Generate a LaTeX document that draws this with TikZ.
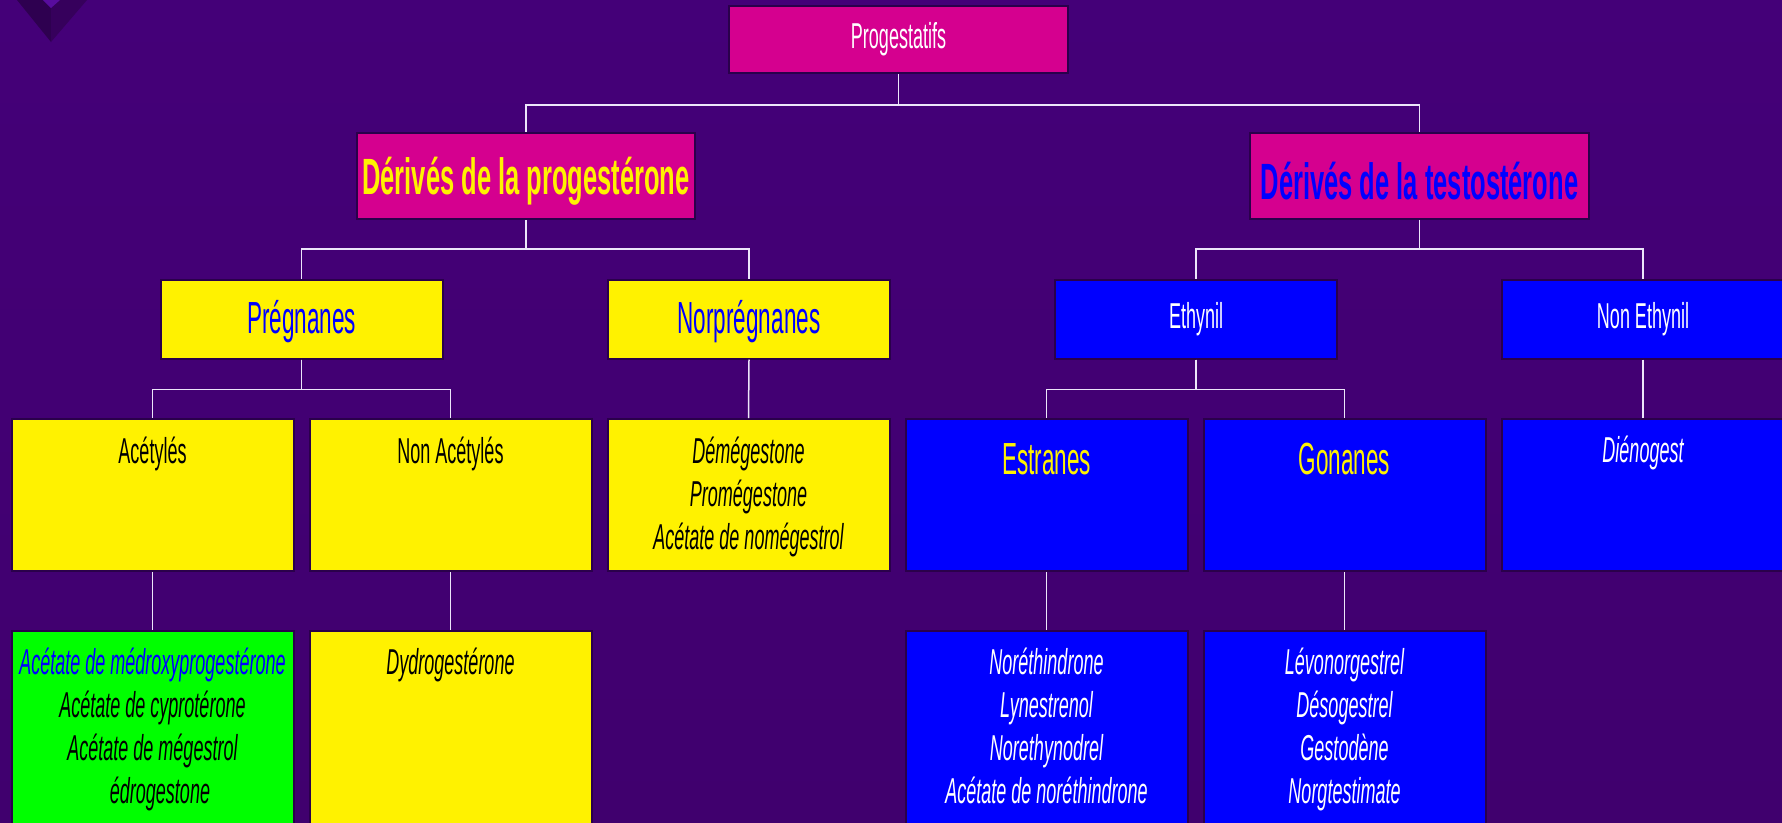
\documentclass[tikz,border=0pt]{standalone}
\usepackage{fontspec}
\usepackage{tikz}
\newfontfamily\slidefont{Liberation Sans}[FakeStretch=0.5]

\definecolor{slidetop}{RGB}{68,0,120}
\definecolor{slidemid}{RGB}{82,0,146}
\definecolor{slidebottom}{RGB}{64,0,110}
\definecolor{magentabox}{RGB}{213,0,143}
\definecolor{boxrim}{RGB}{42,0,75}
\definecolor{linkline}{RGB}{236,230,250}
\definecolor{cornerdark}{RGB}{46,0,80}
\definecolor{cornermid}{RGB}{54,0,92}
\definecolor{cornerlight}{RGB}{88,12,158}

\tikzstyle{box} = [rectangle, draw=boxrim, line width=2pt, inner sep=0pt, align=center]
\tikzstyle{pinkbox} = [box, fill=magentabox]
\tikzstyle{yellowbox} = [box, fill=yellow]
\tikzstyle{bluebox} = [box, fill=blue]
\tikzstyle{greenbox} = [box, fill=green]
\tikzstyle{family} = [minimum width=282pt, minimum height=79pt]
\tikzstyle{group} = [minimum width=282pt, minimum height=152pt]
\tikzstyle{list} = [minimum width=282pt, minimum height=220pt]
\tikzstyle{link} = [draw=linkline, line width=1.5pt]
\tikzstyle{txt} = [inner sep=0pt, align=center, anchor=north]
\tikzstyle{small} = [font=\slidefont\fontsize{36}{43}\selectfont]
\tikzstyle{smallit} = [font=\slidefont\itshape\fontsize{36}{43}\selectfont]
\tikzstyle{big} = [font=\slidefont\fontsize{45}{52}\selectfont, text height=38pt]
\tikzstyle{title} = [font=\slidefont\bfseries\fontsize{51}{60}\selectfont, text height=48pt]

\begin{document}
\begin{tikzpicture}[x=1pt, y=-1pt]
    \clip (0,0) rectangle (1782,822);
    \shade[top color=slidetop, middle color=slidemid, bottom color=slidebottom] (0,0) rectangle (1782,822);
    % corner ornament
    \fill[cornerdark] (17,0) -- (51,0) -- (51,42) -- cycle;
    \fill[cornermid] (51,0) -- (87,0) -- (51,42) -- cycle;
    \fill[cornerlight] (43,0) -- (60,0) -- (51,8) -- cycle;

    % top and first split
    \node[pinkbox, small, minimum width=339pt, minimum height=67pt, text=white] at (898.5,39.5) (root) {Progestatifs};
    \node[pinkbox, title, minimum width=338pt, minimum height=86pt, text=yellow] at (526,176) (deriv P) {Dérivés de la progestérone};
    \node[pinkbox, title, minimum width=339pt, minimum height=86pt, text=blue] at (1419.5,176) (deriv T) {Dérivés de la testostérone};

    % families
    \node[yellowbox, family, big, text=blue] at (301.5,319) (pregn) {Prégnanes};
    \node[yellowbox, family, big, text=blue] at (749,319) (norpregn) {Norprégnanes};
    \node[bluebox, family, small, text=white] at (1196,319) (ethynil) {Ethynil};
    \node[bluebox, family, small, text=white] at (1643,319) (non ethynil) {Non Ethynil};

    % groups
    \node[yellowbox, group] at (152.5,495) (acet) {};
    \node[yellowbox, group] at (450.5,495) (non acet) {};
    \node[yellowbox, group] at (748.5,495) (norpregn list) {};
    \node[bluebox, group] at (1046.5,495) (estranes) {};
    \node[bluebox, group] at (1344.5,495) (gonanes) {};
    \node[bluebox, group] at (1643,495) (non ethynil list) {};

    % molecules
    \node[greenbox, list] at (152.5,741) (acet list) {};
    \node[yellowbox, list] at (450.5,741) (non acet list) {};
    \node[bluebox, list] at (1046.5,741) (estranes list) {};
    \node[bluebox, list] at (1344.5,741) (gonanes list) {};

    \node[txt, small] at ([yshift=-19pt]acet.north) {Acétylés};
    \node[txt, small] at ([yshift=-19pt]non acet.north) {Non Acétylés};
    \node[txt, smallit] at ([yshift=-19pt]norpregn list.north) {Démégestone\\Promégestone\\Acétate de nomégestrol};
    \node[txt, big, text height=33pt, text=yellow] at ([yshift=-23pt]estranes.north) {Estranes};
    \node[txt, big, text height=33pt, text=yellow] at ([yshift=-23pt]gonanes.north) {Gonanes};
    \node[txt, smallit, text=white] at ([yshift=-18pt]non ethynil list.north) {Diénogest};

    \node[txt, smallit] at ([yshift=-18pt]acet list.north) {\textcolor{blue}{Acétate de médroxyprogestérone}\\Acétate de cyprotérone\\Acétate de mégestrol\\\hspace*{15pt}édrogestone};
    \node[txt, smallit] at ([yshift=-18pt]non acet list.north) {Dydrogestérone};
    \node[txt, smallit, text=white] at ([yshift=-18pt]estranes list.north) {Noréthindrone\\Lynestrenol\\Norethynodrel\\Acétate de noréthindrone};
    \node[txt, smallit, text=white] at ([yshift=-18pt]gonanes list.north) {Lévonorgestrel\\Désogestrel\\Gestodène\\Norgtestimate};

    % connectors
    \draw[link] (root.south) -- ++(0,31) -| (deriv P.north);
    \draw[link] (root.south) -- ++(0,31) -| (deriv T.north);
    \draw[link] (deriv P.south) -- ++(0,29) -| (pregn.north);
    \draw[link] (deriv P.south) -- ++(0,29) -| (norpregn.north);
    \draw[link] (deriv T.south) -- ++(0,29) -| (ethynil.north);
    \draw[link] (deriv T.south) -- ++(0,29) -| (non ethynil.north);
    \draw[link] (pregn.south) -- ++(0,30) -| (acet.north);
    \draw[link] (pregn.south) -- ++(0,30) -| (non acet.north);
    \draw[link] (norpregn.south) -- (norpregn list.north);
    \draw[link] (ethynil.south) -- ++(0,30) -| (estranes.north);
    \draw[link] (ethynil.south) -- ++(0,30) -| (gonanes.north);
    \draw[link] (non ethynil.south) -- (non ethynil list.north);
    \draw[link] (acet.south) -- (acet list.north);
    \draw[link] (non acet.south) -- (non acet list.north);
    \draw[link] (estranes.south) -- (estranes list.north);
    \draw[link] (gonanes.south) -- (gonanes list.north);
\end{tikzpicture}
\end{document}
